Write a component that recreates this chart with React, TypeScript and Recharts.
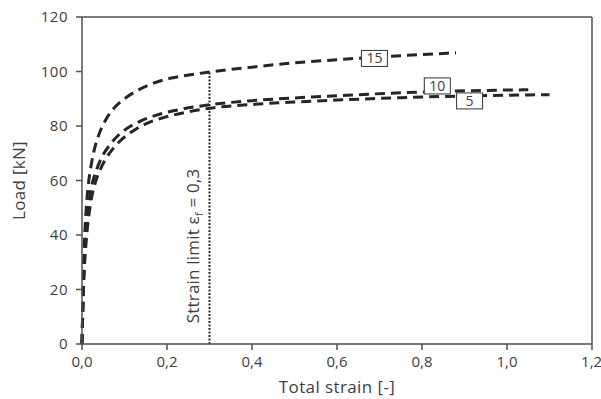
import React from 'react';
import {
  LineChart,
  Line,
  XAxis,
  YAxis,
  ReferenceLine,
  ReferenceDot,
} from 'recharts';

// series "15"
const strain15 = [0, 0.002, 0.004, 0.007, 0.011, 0.016, 0.022, 0.03, 0.04, 0.055, 0.075, 0.1, 0.13, 0.17, 0.21, 0.255, 0.3, 0.4, 0.5, 0.6, 0.7, 0.8, 0.88];
const load15 = [0, 15, 30, 42, 52, 60, 66, 72, 77, 82, 86.5, 90, 93, 95.8, 97.6, 98.8, 99.8, 101.6, 103.2, 104.3, 105.4, 106.2, 106.9];

// series "10"
const strain10 = [0, 0.002, 0.005, 0.009, 0.014, 0.02, 0.028, 0.038, 0.05, 0.065, 0.085, 0.11, 0.14, 0.18, 0.235, 0.3, 0.4, 0.5, 0.6, 0.75, 0.9, 1.05];
const load10 = [0, 14, 28, 40, 49, 56, 61, 65.5, 69.5, 73, 76.5, 79.5, 82, 84.2, 86.2, 87.8, 89.3, 90.3, 91.1, 92.2, 92.9, 93.3];

// series "5"
const strain5 = [0, 0.002, 0.005, 0.01, 0.016, 0.023, 0.032, 0.043, 0.056, 0.072, 0.093, 0.12, 0.15, 0.19, 0.245, 0.3, 0.4, 0.5, 0.6, 0.75, 0.9, 1.0, 1.1];
const load5 = [0, 13, 26, 38, 47, 54, 59.5, 64, 68, 71.5, 75, 78.2, 80.8, 83, 85, 86.5, 87.9, 88.8, 89.5, 90.4, 91, 91.3, 91.5];

const xTicks = [0, 0.2, 0.4, 0.6, 0.8, 1.0, 1.2];
const yTicks = [0, 20, 40, 60, 80, 100, 120];

// curve tags
const tagNames = ['15', '10', '5'];
const tagStrain = [0.688, 0.836, 0.912];
const tagLoad = [104.8, 94.7, 89.2];

const strainLimit = 0.3;
const strainLimitTop = 99.8;

const zip = (xs: number[], ys: number[]) => xs.map((x, i) => ({ strain: x, load: ys[i] }));

const data15 = zip(strain15, load15);
const data10 = zip(strain10, load10);
const data5 = zip(strain5, load5);

const FONT = '"Open Sans", "Noto Sans", sans-serif';
const TEXT = '#404040';
const AXIS = '#505050';
const CURVE = '#262626';

const fmtX = (v: number) => v.toFixed(1).replace('.', ',');

const Tag = ({ cx, cy, name }: any) => (
  <g>
    <rect x={cx - 13} y={cy - 8} width={26} height={16} fill="#fff" stroke="#333" strokeWidth={1} />
    <text x={cx} y={cy + 5} textAnchor="middle" fontSize={14} fontFamily={FONT} fill={TEXT}>
      {name}
    </text>
  </g>
);

const LimitText = ({ cx, cy }: any) => {
  const x = cx - 10;
  return (
    <text
      x={x}
      y={cy}
      transform={`rotate(-90, ${x}, ${cy})`}
      textAnchor="middle"
      fontSize={17}
      letterSpacing={0.2}
      fontFamily={FONT}
      fill={TEXT}
    >
      Sttrain limit ε
      <tspan fontSize={11} dy={4}>f</tspan>
      <tspan dy={-4}> = 0,3</tspan>
    </text>
  );
};

export default function App() {
  return (
    <div style={{ position: 'absolute', left: 0, top: 0, background: '#fff' }}>
      <LineChart
        width={601}
        height={399}
        margin={{ top: 17, right: 9, bottom: 0, left: 0 }}
      >
        <XAxis
          dataKey="strain"
          type="number"
          domain={[0, 1.2]}
          ticks={xTicks}
          tickFormatter={fmtX}
          allowDuplicatedCategory={false}
          height={55}
          stroke={AXIS}
          strokeWidth={1.5}
          tickSize={6}
          tickMargin={6}
          tick={{ fill: TEXT, fontSize: 15, fontFamily: FONT }}
          label={{
            value: 'Total strain [-]',
            position: 'insideBottom',
            offset: 6,
            fill: TEXT,
            fontSize: 17,
            fontFamily: FONT,
            letterSpacing: 0.4,
          }}
        />
        <YAxis
          dataKey="load"
          type="number"
          domain={[0, 120]}
          ticks={yTicks}
          width={82}
          stroke={AXIS}
          strokeWidth={1.5}
          tickSize={6}
          tickMargin={8}
          tick={{ fill: TEXT, fontSize: 15, fontFamily: FONT, letterSpacing: 0.5 }}
          label={{
            value: 'Load [kN]',
            angle: -90,
            position: 'insideLeft',
            offset: 19,
            fill: TEXT,
            fontSize: 17,
            fontFamily: FONT,
            letterSpacing: 0.3,
            style: { textAnchor: 'middle' },
          }}
        />
        <ReferenceLine y={120} stroke={AXIS} strokeWidth={1.5} />
        <ReferenceLine x={1.2} stroke={AXIS} strokeWidth={1.5} />
        <ReferenceLine
          segment={[
            { x: strainLimit, y: 0 },
            { x: strainLimit, y: strainLimitTop },
          ]}
          stroke={CURVE}
          strokeWidth={2}
          strokeDasharray="2 1.5"
        />
        <Line
          data={data15}
          dataKey="load"
          type="monotone"
          stroke={CURVE}
          strokeWidth={3}
          strokeDasharray="10 6"
          dot={false}
          isAnimationActive={false}
        />
        <Line
          data={data10}
          dataKey="load"
          type="monotone"
          stroke={CURVE}
          strokeWidth={3}
          strokeDasharray="10 6"
          dot={false}
          isAnimationActive={false}
        />
        <Line
          data={data5}
          dataKey="load"
          type="monotone"
          stroke={CURVE}
          strokeWidth={3}
          strokeDasharray="10 6"
          dot={false}
          isAnimationActive={false}
        />
        <ReferenceDot
          x={strainLimit}
          y={36}
          r={0}
          shape={(p: any) => <LimitText {...p} />}
        />
        {tagNames.map((name, i) => (
          <ReferenceDot
            key={name}
            x={tagStrain[i]}
            y={tagLoad[i]}
            r={0}
            shape={(p: any) => <Tag {...p} name={name} />}
          />
        ))}
      </LineChart>
    </div>
  );
}
